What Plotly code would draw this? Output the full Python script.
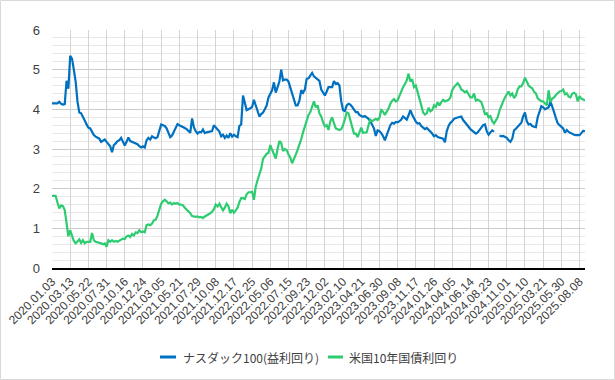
import datetime as dt
import plotly.graph_objects as go

tick_labels = [
    "2020.01.03", "2020.03.13", "2020.05.22", "2020.07.31", "2020.10.16", "2020.12.24",
    "2021.03.05", "2021.05.21", "2021.07.29", "2021.10.08", "2021.12.17",
    "2022.02.25", "2022.05.06", "2022.07.15", "2022.09.23", "2022.12.02",
    "2023.02.10", "2023.04.21", "2023.06.30", "2023.09.08", "2023.11.17",
    "2024.01.26", "2024.04.05", "2024.06.14", "2024.08.23", "2024.11.01",
    "2025.01.10", "2025.03.21", "2025.05.30", "2025.08.08",
]
tail_dates = ["2025.08.15", "2025.08.22", "2025.08.29"]

nasdaq_yield = [
    4.15, 4.15, 4.16, 4.15, 4.19, 4.14, 4.12, 4.13, 4.72, 4.52,
    5.35, 5.28, 5.0, 4.7, 4.2, 3.92, 3.9, 3.82, 3.72, 3.62,
    3.54, 3.52, 3.43, 3.35, 3.31, 3.29, 3.26, 3.18, 3.22, 3.24,
    3.18, 3.12, 3.07, 2.92, 3.1, 3.14, 3.2, 3.22, 3.28, 3.18,
    3.09, 3.18, 3.29, 3.2, 3.18, 3.18, 3.16, 3.12, 3.07, 3.04,
    3.07, 3.04, 3.22, 3.28, 3.24, 3.32, 3.29, 3.27, 3.3, 3.5,
    3.62, 3.6, 3.58, 3.52, 3.42, 3.3, 3.34, 3.44, 3.55, 3.63,
    3.6, 3.58, 3.57, 3.53, 3.5, 3.45, 3.41, 3.77, 3.55, 3.45,
    3.39, 3.43, 3.42, 3.49, 3.4, 3.42, 3.43, 3.43, 3.45, 3.6,
    3.55, 3.49, 3.44, 3.32, 3.36, 3.28, 3.34, 3.28, 3.4, 3.31,
    3.36, 3.32, 3.3, 3.58, 3.62, 4.35, 4.15, 3.98, 4.0, 4.02,
    4.06, 4.24, 4.08, 3.95, 3.82, 3.88, 3.92, 4.0, 4.1, 4.3,
    4.4, 4.48, 4.68, 4.42, 4.56, 4.7, 5.0, 4.73, 4.75, 4.75,
    4.7, 4.56, 4.4, 4.22, 4.1, 4.1, 4.22, 4.48, 4.42, 4.5,
    4.77, 4.78, 4.86, 4.92, 4.83, 4.8, 4.76, 4.72, 4.5, 4.42,
    4.35, 4.45, 4.56, 4.56, 4.56, 4.71, 4.64, 4.66, 4.6, 4.2,
    3.98, 3.96, 4.1, 4.14, 4.12, 4.06, 4.0, 3.93, 3.93, 3.86,
    3.83, 3.81, 3.83, 3.8, 3.76, 3.7, 3.6, 3.52, 3.33, 3.47,
    3.45, 3.4, 3.32, 3.22, 3.35, 3.47, 3.6, 3.66, 3.64, 3.68,
    3.67, 3.7, 3.74, 3.82, 3.77, 3.74, 3.85, 3.98, 3.86, 3.77,
    3.69, 3.64, 3.65, 3.58, 3.54, 3.5, 3.53, 3.49, 3.44, 3.39,
    3.32, 3.35, 3.3, 3.28, 3.27, 3.26, 3.17, 3.45, 3.58, 3.66,
    3.7, 3.76, 3.78, 3.8, 3.82, 3.82, 3.73, 3.68, 3.63, 3.56,
    3.5, 3.46, 3.42, 3.39, 3.42, 3.47, 3.54, 3.6, 3.62, 3.45,
    3.36, 3.42, 3.47, 3.44, None, None, 3.34, 3.32, 3.33, 3.3,
    3.28, 3.22, 3.18, 3.26, 3.47, 3.51, 3.56, 3.6, 3.66, 3.82,
    3.92, 3.7, 3.62, 3.63, 3.58, 3.56, 3.55, 3.8, 3.97, 4.08,
    4.05, 4.0, 4.03, 4.05, 4.2, 4.08, 3.93, 3.78, 3.65, 3.6,
    3.55, 3.52, 3.41, 3.48, 3.43, 3.4, 3.38, 3.36, 3.35, 3.35,
    3.35, 3.4, 3.46, 3.44,
]

us10y_yield = [
    1.82, 1.82, 1.82, 1.65, 1.5, 1.58, 1.56, 1.46, 1.12, 0.8,
    0.95, 0.8, 0.68, 0.62, 0.66, 0.72, 0.63, 0.7, 0.62, 0.66,
    0.66, 0.66, 0.88, 0.7, 0.66, 0.65, 0.63, 0.62, 0.6, 0.62,
    0.54, 0.7, 0.66, 0.7, 0.66, 0.68, 0.66, 0.68, 0.7, 0.74,
    0.73, 0.8, 0.82, 0.78, 0.86, 0.82, 0.9, 0.88, 0.95, 0.9,
    0.92, 0.9, 1.08, 1.1, 1.08, 1.12, 1.2, 1.22, 1.32, 1.45,
    1.62, 1.68, 1.72, 1.68, 1.63, 1.65, 1.6, 1.64, 1.62, 1.64,
    1.6, 1.6, 1.58, 1.52, 1.48, 1.44, 1.38, 1.31, 1.3, 1.29,
    1.3, 1.28, 1.29, 1.26, 1.3, 1.32, 1.34, 1.38, 1.42, 1.48,
    1.6, 1.55, 1.62, 1.55, 1.45, 1.52, 1.62, 1.56, 1.38, 1.47,
    1.39, 1.45, 1.52, 1.66, 1.76, 1.76, 1.74, 1.86, 1.91, 1.91,
    1.92, 1.72, 2.05, 2.22, 2.35, 2.5, 2.75, 2.82, 2.88, 2.9,
    3.1, 2.98, 2.86, 2.76, 3.0, 3.2, 3.15, 2.95, 3.0, 2.97,
    2.86, 2.78, 2.64, 2.78, 2.86, 2.98, 3.1, 3.25, 3.42, 3.58,
    3.75, 3.86, 3.93, 4.08, 4.2, 4.05, 4.1, 3.9, 3.82, 3.68,
    3.57, 3.6, 3.48, 3.7, 3.8, 3.65, 3.52, 3.5, 3.48, 3.5,
    3.6, 3.75, 3.92, 3.9, 3.74, 3.53, 3.39, 3.39, 3.3, 3.42,
    3.54, 3.41, 3.41, 3.42, 3.6, 3.74, 3.7, 3.72, 3.76, 3.73,
    3.79, 3.98, 3.94, 3.86, 3.94, 4.02, 4.14, 4.22, 4.26, 4.2,
    4.23, 4.35, 4.43, 4.56, 4.64, 4.73, 4.9, 4.7, 4.76, 4.56,
    4.6, 4.45, 4.25, 4.1, 3.92, 3.87, 3.9, 4.04, 3.95, 3.98,
    4.1, 4.06, 4.18, 4.1, 4.18, 4.24, 4.2, 4.22, 4.24, 4.3,
    4.48, 4.56, 4.61, 4.66, 4.6, 4.5, 4.47, 4.43, 4.46, 4.38,
    4.3, 4.3, 4.4, 4.22, 4.24, 4.22, 4.18, 4.05, 3.88, 3.9,
    3.8, 3.83, 3.7, 3.64, 3.72, 3.8, 3.97, 4.1, 4.2, 4.3,
    4.38, 4.45, 4.35, 4.4, 4.28, 4.35, 4.5, 4.58, 4.58, 4.66,
    4.8, 4.7, 4.6, 4.56, 4.53, 4.44, 4.4, 4.28, 4.23, 4.2,
    4.2, 4.15, 4.1, 4.48, 4.18, 4.27, 4.3, 4.36, 4.4, 4.45,
    4.46, 4.5, 4.38, 4.4, 4.32, 4.3, 4.4, 4.42, 4.38, 4.2,
    4.33, 4.27, 4.25, 4.22,
]

series_names = ["ナスダック100(益利回り)", "米国10年国債利回り"]
series_colors = ["#0070c0", "#2ecc71"]

# weekly category labels: 10 weeks per labelled block
dates = []
for lab in tick_labels[:-1]:
    d0 = dt.datetime.strptime(lab, "%Y.%m.%d")
    for k in range(10):
        dates.append((d0 + dt.timedelta(days=7 * k)).strftime("%Y.%m.%d"))
dates.append(tick_labels[-1])
dates += tail_dates
seen = set()
for j, d in enumerate(dates):
    if d in seen:
        dates[j] = d + " "
    seen.add(dates[j])

n = min(len(dates), len(nasdaq_yield), len(us10y_yield))
dates = dates[:n]

font_main = "Liberation Sans, Arial, Noto Sans CJK JP, sans-serif"
text_col = "#404040"

fig = go.Figure()
for name, vals, col in zip(series_names, [nasdaq_yield, us10y_yield], series_colors):
    fig.add_trace(go.Scatter(
        x=dates, y=vals[:n], mode="lines", name=name,
        line=dict(color=col, width=2.2), connectgaps=False, showlegend=False,
    ))

W, H = 615, 380
ml, mr, mt, mb = 52, 30, 30, 112
pw, ph = W - ml - mr, H - mt - mb


def px_x(x):
    return (x - ml) / pw


def px_y(y):
    return (H - mb - y) / ph


shapes = [dict(
    type="rect", xref="paper", yref="paper",
    x0=px_x(0.5), x1=px_x(W - 0.5), y0=px_y(H - 0.5), y1=px_y(0.5),
    line=dict(color="#d9d9d9", width=1), fillcolor="rgba(0,0,0,0)",
    layer="below",
)]
annotations = []
# custom legend (short line samples like the original)
legend_items = [(160, 176, 181), (328, 343, 347)]
legend_y = 357
for (lx0, lx1, tx), name, col in zip(legend_items, series_names, series_colors):
    shapes.append(dict(
        type="line", xref="paper", yref="paper",
        x0=px_x(lx0), x1=px_x(lx1), y0=px_y(legend_y), y1=px_y(legend_y),
        line=dict(color=col, width=3),
    ))
    annotations.append(dict(
        text=name, xref="paper", yref="paper", x=px_x(tx), y=px_y(legend_y),
        xanchor="left", yanchor="middle", showarrow=False,
        font=dict(family="Noto Sans CJK JP, sans-serif", size=12, color=text_col),
    ))

fig.update_layout(
    width=W, height=H,
    margin=dict(l=ml, r=mr, t=mt, b=mb, autoexpand=False),
    paper_bgcolor="white", plot_bgcolor="white",
    font=dict(family=font_main, size=12, color=text_col),
    showlegend=False,
    xaxis=dict(
        type="category", range=[0, n - 1], automargin=False,
        tickmode="array", tickvals=tick_labels, ticktext=tick_labels,
        tickangle=-45, tickfont=dict(size=12, color=text_col),
        showgrid=True, gridcolor="#d4d4d4", gridwidth=1,
        showline=True, linecolor="#000000", linewidth=2,
        ticks="", zeroline=False,
    ),
    yaxis=dict(
        range=[0, 6], dtick=1, tick0=0, automargin=False,
        tickfont=dict(size=13, color=text_col), ticklabelstandoff=11,
        showgrid=True, gridcolor="#cccccc", gridwidth=1,
        minor=dict(dtick=0.2, showgrid=True, gridcolor="#e8e8e8", gridwidth=1),
        zeroline=False, showline=False, ticks="",
    ),
    shapes=shapes,
    annotations=annotations,
)

fig.write_html(
    "out.html",
    config={"displayModeBar": False},
    post_script="document.body.style.margin='0';document.body.style.overflow='hidden';",
)
